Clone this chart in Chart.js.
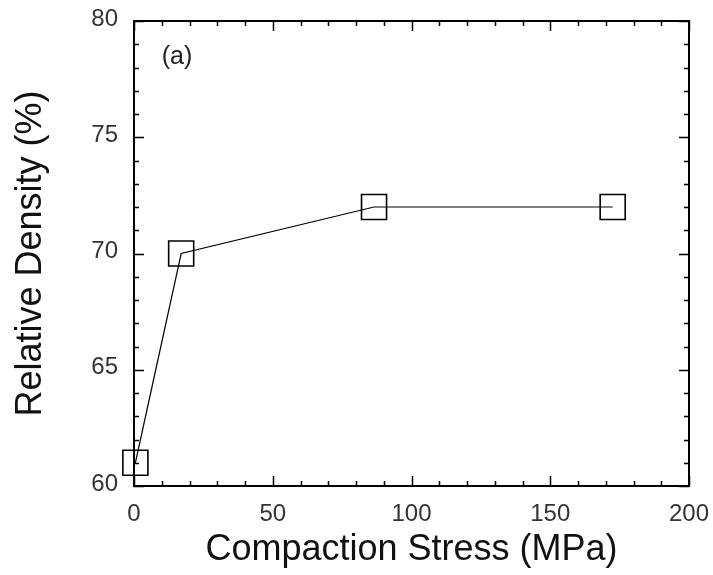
<!DOCTYPE html>
<html>
<head>
<meta charset="utf-8">
<script src="https://cdn.jsdelivr.net/npm/chart.js@4.4.0/dist/chart.umd.min.js"></script>
<style>
  html, body { margin: 0; padding: 0; background: #fff; }
  #wrap { width: 713px; height: 575px; }
</style>
</head>
<body>
<div id="wrap"><canvas id="chart" width="713" height="575"></canvas></div>
<script>
// data
const stress = [0.5, 17, 86.5, 172.5];       // MPa
const density = [61, 70, 72, 72];           // %
const xTicks = [0, 50, 100, 150, 200];
const yTicks = [60, 65, 70, 75, 80];
const panelLabel = '(a)';

const FONT = '"Liberation Sans", Arial, sans-serif';

// box frame + inward major/minor ticks on all four sides
const frameTicks = {
  id: 'frameTicks',
  afterDatasetsDraw(chart) {
    const { ctx, chartArea: a, scales: { x, y } } = chart;
    ctx.save();
    ctx.strokeStyle = '#000';
    ctx.lineWidth = 1.5;
    ctx.beginPath();
    for (let v = 0; v <= 200; v += 10) {
      const px = Math.round(x.getPixelForValue(v)) + 0.5;
      const len = v % 50 === 0 ? 10 : 5;
      ctx.moveTo(px, a.bottom); ctx.lineTo(px, a.bottom - len);
      ctx.moveTo(px, a.top); ctx.lineTo(px, a.top + len);
    }
    for (let v = 60; v <= 80; v += 1) {
      const py = Math.round(y.getPixelForValue(v)) + 0.5;
      const len = v % 5 === 0 ? 10 : 5;
      ctx.moveTo(a.left, py); ctx.lineTo(a.left + len, py);
      ctx.moveTo(a.right, py); ctx.lineTo(a.right - len, py);
    }
    ctx.stroke();
    ctx.lineWidth = 2;
    ctx.strokeRect(a.left, a.top, a.right - a.left, a.bottom - a.top);

    // panel label
    ctx.fillStyle = '#222';
    ctx.font = '25px ' + FONT;
    ctx.textAlign = 'left';
    ctx.textBaseline = 'middle';
    ctx.fillText(panelLabel, x.getPixelForValue(10), y.getPixelForValue(78.45));
    ctx.restore();
  }
};

new Chart(document.getElementById('chart'), {
  type: 'line',
  data: {
    datasets: [{
      data: stress.map((s, i) => ({ x: s, y: density[i] })),
      borderColor: '#000',
      borderWidth: 1.2,
      pointStyle: 'rect',
      pointRadius: 17.7,
      pointBorderWidth: 1.6,
      pointBorderColor: '#000',
      pointBackgroundColor: 'rgba(0,0,0,0)',
      clip: false,
      tension: 0
    }]
  },
  options: {
    responsive: false,
    animation: false,
    layout: { padding: { top: 21, right: 24, left: 0, bottom: 0 } },
    plugins: { legend: { display: false }, tooltip: { enabled: false } },
    scales: {
      x: {
        type: 'linear',
        min: 0, max: 200,
        afterBuildTicks: s => { s.ticks = xTicks.map(v => ({ value: v })); },
        afterFit: s => { s.height = 89; s.paddingLeft = 0; s.paddingRight = 0; },
        grid: { display: false, drawTicks: false },
        border: { display: false },
        ticks: { font: { family: FONT, size: 24 }, color: '#333', padding: 14, maxRotation: 0 },
        title: {
          display: true,
          text: 'Compaction Stress (MPa)',
          font: { family: FONT, size: 36 },
          color: '#111',
          padding: { top: 0, bottom: 3 }
        }
      },
      y: {
        type: 'linear',
        min: 60, max: 80,
        afterBuildTicks: s => { s.ticks = yTicks.map(v => ({ value: v })); },
        afterFit: s => { s.width = 134; s.paddingTop = 0; s.paddingBottom = 0; },
        grid: { display: false, drawTicks: false },
        border: { display: false },
        ticks: { font: { family: FONT, size: 24 }, color: '#333', padding: 16, labelOffset: -2 },
        title: {
          display: true,
          text: 'Relative Density (%)',
          font: { family: FONT, size: 36 },
          color: '#111',
          padding: { top: 9, bottom: 0 }
        }
      }
    }
  },
  plugins: [frameTicks]
});
</script>
</body>
</html>
